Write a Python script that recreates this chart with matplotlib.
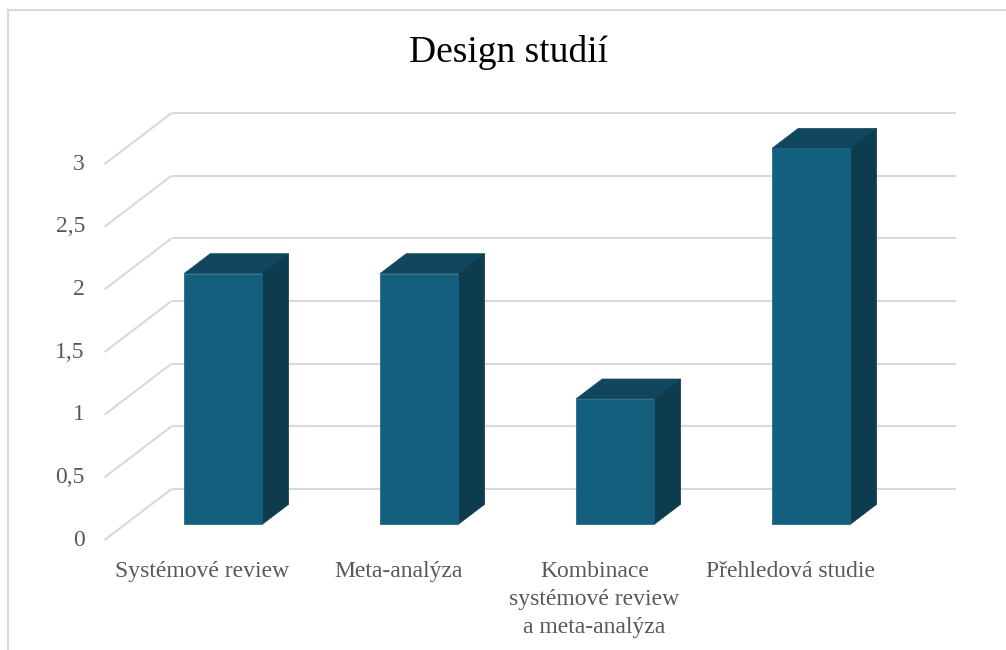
import matplotlib.pyplot as plt
from matplotlib.patches import Polygon, Rectangle

# data
categories = ["Systémové review", "Meta-analýza",
              "Kombinace\nsystémové review\na meta-analýza", "Přehledová studie"]
values = [2, 2, 1, 3]
y_ticks = [0, 0.5, 1, 1.5, 2, 2.5, 3]
y_tick_labels = ["0", "0,5", "1", "1,5", "2", "2,5", "3"]
title = "Design studií"

# colours
front_col = "#155F7E"
top_col = "#10475F"
side_col = "#0C3C4E"
grid_col = "#D9D9D9"
text_col = "#595959"

plt.rcParams["font.family"] = ["Liberation Serif", "DejaVu Serif"]

W, H = 1006, 650
fig = plt.figure(figsize=(W / 100, H / 100), dpi=100)

# pixel layout of the plot (depth 0 plane)
x0_px, cat_px = 202.5, 196.0     # centre of first category, spacing
y0_px, val_px = 540.0, 125.3     # value 0, pixels per unit
xmin = -x0_px / cat_px
xmax = (W - x0_px) / cat_px
ymin = (y0_px - H) / val_px
ymax = y0_px / val_px

ax = fig.add_axes([0, 0, 1, 1])
ax.set_xlim(xmin, xmax)
ax.set_ylim(ymin, ymax)
ax.axis("off")

# oblique depth offset for full depth
dx = 67 / cat_px
dy = 51 / val_px
bar_w = 0.40
d_front, d_back = 0.31, 0.70


def proj(x, y, d):
    return (x + d * dx, y + d * dy)


left, right = -0.5, 3.5

# gridlines on back wall and left side wall
for v, lab in zip(y_ticks, y_tick_labels):
    bx0, by0 = proj(left, v, 1)
    bx1, by1 = proj(right, v, 1)
    ax.plot([bx0, bx1], [by0, by1], color=grid_col, lw=1.5, zorder=1,
            solid_capstyle="butt")
    fx, fy = proj(left, v, 0)
    ax.plot([fx, bx0], [fy, by0], color=grid_col, lw=1.5, zorder=1,
            solid_capstyle="butt")
    ax.text(left - 0.1, v, lab, ha="right", va="center", fontsize=17,
            color=text_col)

# 3D bars
for i, v in enumerate(values):
    xl, xr = i - bar_w / 2, i + bar_w / 2
    f = [proj(xl, 0, d_front), proj(xr, 0, d_front),
         proj(xr, v, d_front), proj(xl, v, d_front)]
    t = [proj(xl, v, d_front), proj(xr, v, d_front),
         proj(xr, v, d_back), proj(xl, v, d_back)]
    s = [proj(xr, 0, d_front), proj(xr, 0, d_back),
         proj(xr, v, d_back), proj(xr, v, d_front)]
    ax.add_patch(Polygon(t, closed=True, facecolor=top_col, edgecolor=top_col,
                         lw=0.5, zorder=3))
    ax.add_patch(Polygon(s, closed=True, facecolor=side_col, edgecolor=side_col,
                         lw=0.5, zorder=3))
    ax.add_patch(Polygon(f, closed=True, facecolor=front_col, edgecolor=front_col,
                         lw=0.5, zorder=4))
    ax.text(i, -0.17, categories[i], ha="center", va="top", fontsize=17,
            color=text_col, linespacing=1.42)

ax.text((xmin + xmax) / 2 + 0.03, (y0_px - 53) / val_px, title, ha="center",
        va="center", fontsize=27, color="black")

# chart border (right and bottom edges fall outside the picture)
fig.patches.append(Rectangle((8 / W, -0.1), 1.1, 1 - 10 / H + 0.1,
                             transform=fig.transFigure, fill=False,
                             edgecolor=grid_col, lw=1.5))

fig.savefig("out.png", dpi=100)
